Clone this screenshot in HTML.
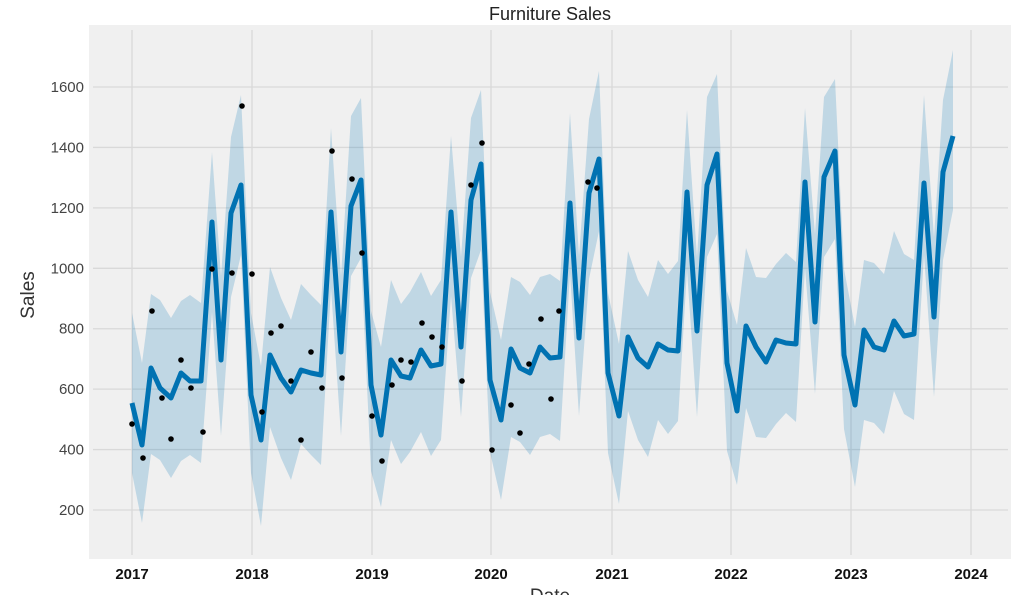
<!DOCTYPE html>
<html><head><meta charset="utf-8"><style>
html,body{margin:0;padding:0;background:#fff;}
svg{display:block;font-family:"Liberation Sans",sans-serif;}
</style></head><body>
<svg id="s" width="1017" height="595" viewBox="0 0 1017 595">
<rect x="89" y="25" width="922" height="534" fill="#f0f0f0"/>
<g id="grid" stroke="#d9d9d9" stroke-width="1.3"></g>
<path id="band" fill="#0072b2" fill-opacity="0.2"/>
<polyline id="line" fill="none" stroke="#0072b2" stroke-width="5" stroke-linejoin="round"/>
<g id="dots" fill="#000"></g>
<text x="550" y="20" font-size="18" text-anchor="middle" fill="#222">Furniture Sales</text>
<text transform="translate(34,295) rotate(-90)" font-size="19" text-anchor="middle" fill="#333">Sales</text>
<text x="550" y="602" font-size="19" text-anchor="middle" fill="#333">Date</text>
<g id="yt" font-size="15" fill="#444" text-anchor="end"></g>
<g id="xt" font-size="15" font-weight="bold" fill="#111" text-anchor="middle"></g>
</svg>
<script>
var ns="http://www.w3.org/2000/svg";
function el(p,t,a,txt){var e=document.createElementNS(ns,t);for(var k in a)e.setAttribute(k,a[k]);if(txt)e.textContent=txt;document.getElementById(p).appendChild(e);}
var yv=[200,400,600,800,1000,1200,1400,1600];
yv.forEach(function(v){var y=510-(v-200)*0.30214;el("grid","line",{x1:93,x2:1008,y1:y,y2:y});el("yt","text",{x:84,y:y+5},String(v));});
var xs=[132,252,372,491,612,731,851,971];
xs.forEach(function(x,i){el("grid","line",{x1:x,x2:x,y1:30,y2:555});el("xt","text",{x:x,y:579},String(2017+i));});
var L=[[132,403],[142,445],[151,368],[160,388],[171,398],[181,373],[190,381],[201,381],[212,222],[221,360],[231,213],[241,185],
[251,395],[261,440],[270,355],[281,378],[291,392],[301,370],[311,373],[321,375],[331,212],[341,352],[351,206],[361,180],
[371,385],[381,435],[391,360],[401,376],[410,378],[421,350],[431,366],[441,364],[451,212],[461,347],[471,200],[481,164],
[490,380],[501,420],[511,349],[520,368],[530,373],[540,347],[550,358],[560,357],[570,203],[579,338],[589,193],[599,159],
[608,373],[619,416],[628,337],[638,358],[648,367],[658,344],[668,350],[678,351],[687,192],[697,331],[707,185],[717,154],
[727,363],[737,411],[746,326],[756,347],[766,362],[776,340],[786,343],[796,344],[805,182],[815,322],[824,177],[835,151],
[844,355],[855,405],[864,330],[874,347],[884,350],[894,321],[904,336],[914,334],[924,183],[934,317],[943,172],[953,136]];
document.getElementById("line").setAttribute("points",L.map(function(p){return p.join(",")}).join(" "));
var up=[],lo=[];
L.forEach(function(p,i){var j=((i*37)%11-5)*2;up.push([p[0],p[1]-80+j]);lo.push([p[0],p[1]+80+j]);});
var d="M"+up.map(function(p){return p.join(",")}).join(" L")+" L"+lo.reverse().map(function(p){return p.join(",")}).join(" L")+"Z";
document.getElementById("band").setAttribute("d",d);
var D=[[132,424],[143,458],[152,311],[162,398],[171,439],[181,360],[191,388],[203,432],[212,269],[232,273],[242,106],[252,274],[262,412],[271,333],[281,326],[291,381],[301,440],[311,352],[322,388],[332,151],[342,378],[352,179],[362,253],[372,416],[382,461],[392,385],[401,360],[411,362],[422,323],[432,337],[442,347],[462,381],[471,185],[482,143],[492,450],[511,405],[520,433],[529,364],[541,319],[551,399],[559,311],[588,182],[597,188]];
D.forEach(function(p){el("dots","circle",{cx:p[0],cy:p[1],r:2.8});});
</script>
</body></html>
